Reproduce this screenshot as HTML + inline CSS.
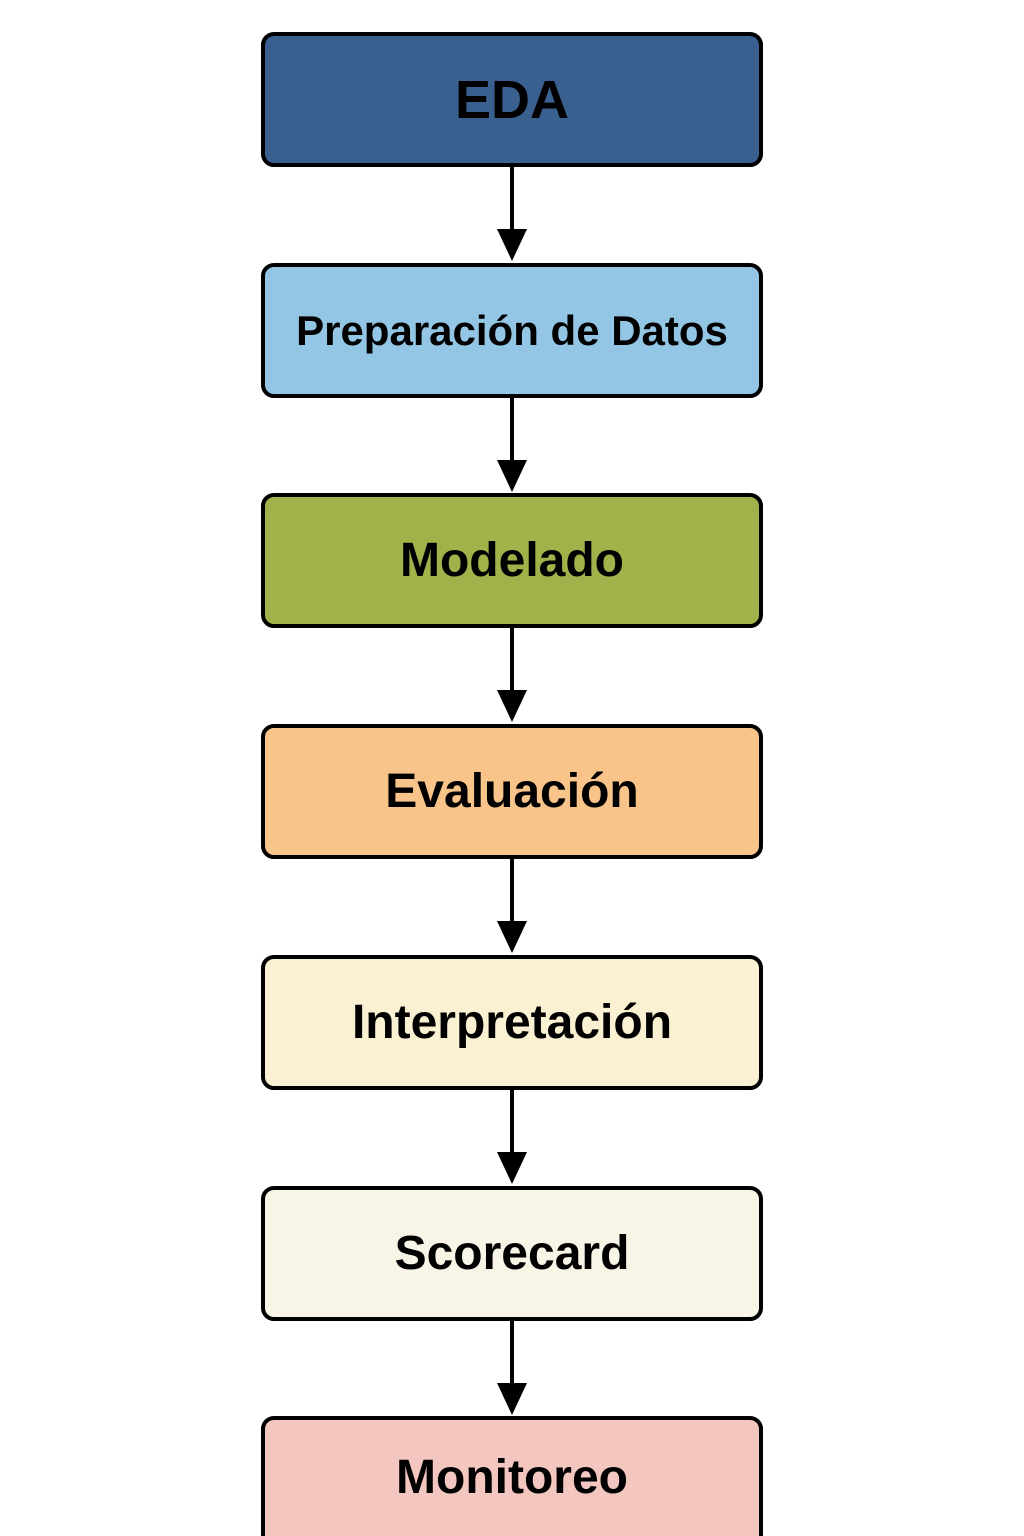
<!DOCTYPE html>
<html><head><meta charset="utf-8"><style>
html,body{margin:0;width:1024px;height:1536px;overflow:hidden}
body{background:#fff;position:relative;font-family:"Liberation Sans",Arial,sans-serif}
.b{position:absolute;left:261px;width:502px;height:135px;box-sizing:border-box;border:4px solid #000;border-radius:13px;display:flex;align-items:center;justify-content:center;font-weight:bold;font-size:48px;color:#000}
.l{position:absolute;left:510px;width:4px;background:#000}
.h{position:absolute;left:497px;width:0;height:0;border-left:15px solid transparent;border-right:15px solid transparent;border-top:32px solid #000}
</style></head><body>
<div class="b" style="top:32px;background:#3a6090;font-size:54px">EDA</div>
<div class="b" style="top:263px;background:#93c6e4;font-size:42px">Preparación de Datos</div>
<div class="b" style="top:493px;background:#a2b24a">Modelado</div>
<div class="b" style="top:724px;background:#f9c48a">Evaluación</div>
<div class="b" style="top:955px;background:#faf0d2">Interpretación</div>
<div class="b" style="top:1186px;background:#f8f5e6">Scorecard</div>
<div class="b" style="top:1416px;height:180px;background:#f4c6c0;align-items:flex-start;padding-top:30px">Monitoreo</div>

<div class="l" style="top:166px;height:66px"></div><div class="h" style="top:229px"></div>
<div class="l" style="top:397px;height:66px"></div><div class="h" style="top:460px"></div>
<div class="l" style="top:627px;height:66px"></div><div class="h" style="top:690px"></div>
<div class="l" style="top:858px;height:66px"></div><div class="h" style="top:921px"></div>
<div class="l" style="top:1089px;height:66px"></div><div class="h" style="top:1152px"></div>
<div class="l" style="top:1320px;height:66px"></div><div class="h" style="top:1383px"></div>
</body></html>
